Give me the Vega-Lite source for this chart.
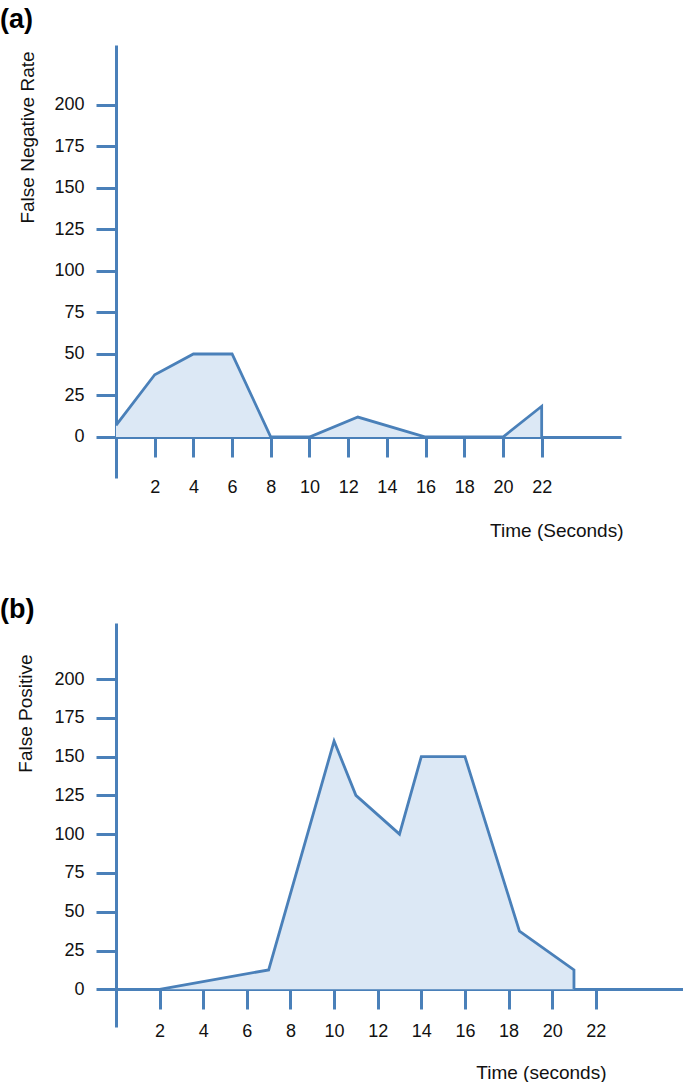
{
  "$schema": "https://vega.github.io/schema/vega-lite/v6.json",
  "padding": {"top": 6, "left": 0, "right": 0, "bottom": 0},
  "background": "white",
  "spacing": 56,
  "config": {
    "view": {"stroke": null},
    "axis": {
      "grid": false,
      "domainColor": "#4a80b9",
      "domainWidth": 3,
      "tickColor": "#4a80b9",
      "tickWidth": 3,
      "tickSize": 20,
      "labelFont": "Liberation Sans",
      "labelFontSize": 18,
      "labelColor": "#111111",
      "labelFlush": false,
      "titleFontWeight": "normal",
      "titleColor": "#111111"
    }
  },
  "vconcat": [
    {
      "width": 505,
      "height": 433,
      "title": {"text": "(a)", "anchor": "start", "frame": "group", "dx": -116, "offset": -10, "baseline": "alphabetic", "font": "Liberation Sans", "fontSize": 27, "fontWeight": "bold", "color": "#000000"},
      "data": {"values": [
        {"i": 1, "t": 0, "v": 7},
        {"i": 2, "t": 2, "v": 37.5},
        {"i": 3, "t": 4, "v": 50},
        {"i": 4, "t": 6, "v": 50},
        {"i": 5, "t": 8, "v": 0},
        {"i": 6, "t": 10, "v": 0},
        {"i": 7, "t": 12.5, "v": 12},
        {"i": 8, "t": 16, "v": 0},
        {"i": 9, "t": 20, "v": 0},
        {"i": 10, "t": 22, "v": 18.5},
        {"i": 11, "t": 22, "v": 0}
      ]},
      "encoding": {
        "x": {"field": "t", "type": "quantitative",
          "scale": {"domain": [0, 26.1], "nice": false, "zero": false},
          "axis": {"values": [2, 4, 6, 8, 10, 12, 14, 16, 18, 20, 22], "offset": -41, "labelPadding": 21, "labelAngle": 0,
            "title": "Time (Seconds)", "titleX": 507, "titleY": 99, "titleAlign": "right", "titleBaseline": "alphabetic",
            "titleFont": "Liberation Sans", "titleFontSize": 19}},
        "y": {"field": "v", "type": "quantitative",
          "scale": {"domain": [-24.7, 236.1], "nice": false},
          "axis": {"values": [0, 25, 50, 75, 100, 125, 150, 175, 200], "labelPadding": 12,
            "title": "False Negative Rate", "titleX": -89, "titleY": 92, "titleAngle": -90, "titleAlign": "center", "titleBaseline": "middle",
            "titleFont": "Liberation Sans", "titleFontSize": 19}}
      },
      "layer": [
        {"transform": [{"filter": "datum.i < 11"}], "mark": {"type": "area", "fill": "#dce8f5", "fillOpacity": 1}},
        {"mark": {"type": "line", "color": "#4a80b9", "strokeWidth": 2.8}, "encoding": {"order": {"field": "i", "type": "quantitative"}}}
      ]
    },
    {
      "width": 567,
      "height": 404,
      "title": {"text": "(b)", "anchor": "start", "frame": "group", "dx": -116, "offset": -22, "baseline": "alphabetic", "font": "Liberation Sans", "fontSize": 27, "fontWeight": "bold", "color": "#000000"},
      "data": {"values": [
        {"i": 1, "t": 2, "v": 0},
        {"i": 2, "t": 7, "v": 12.5},
        {"i": 3, "t": 10, "v": 160},
        {"i": 4, "t": 11, "v": 125},
        {"i": 5, "t": 13, "v": 100},
        {"i": 6, "t": 14, "v": 150},
        {"i": 7, "t": 16, "v": 150},
        {"i": 8, "t": 18.5, "v": 37.5},
        {"i": 9, "t": 21, "v": 12.5},
        {"i": 10, "t": 21, "v": 0}
      ]},
      "encoding": {
        "x": {"field": "t", "type": "quantitative",
          "scale": {"domain": [0, 26], "nice": false, "zero": false},
          "axis": {"values": [2, 4, 6, 8, 10, 12, 14, 16, 18, 20, 22], "offset": -38, "labelPadding": 13, "labelAngle": 0,
            "title": "Time (seconds)", "titleX": 490, "titleY": 89, "titleAlign": "right", "titleBaseline": "alphabetic",
            "titleFont": "Liberation Sans", "titleFontSize": 19}},
        "y": {"field": "v", "type": "quantitative",
          "scale": {"domain": [-24.3, 236.1], "nice": false},
          "axis": {"values": [0, 25, 50, 75, 100, 125, 150, 175, 200], "labelPadding": 12,
            "title": "False Positive", "titleX": -91, "titleY": 90, "titleAngle": -90, "titleAlign": "center", "titleBaseline": "middle",
            "titleFont": "Liberation Sans", "titleFontSize": 19}}
      },
      "layer": [
        {"transform": [{"filter": "datum.i < 10"}], "mark": {"type": "area", "fill": "#dce8f5", "fillOpacity": 1}},
        {"mark": {"type": "line", "color": "#4a80b9", "strokeWidth": 2.8}, "encoding": {"order": {"field": "i", "type": "quantitative"}}}
      ]
    }
  ]
}
